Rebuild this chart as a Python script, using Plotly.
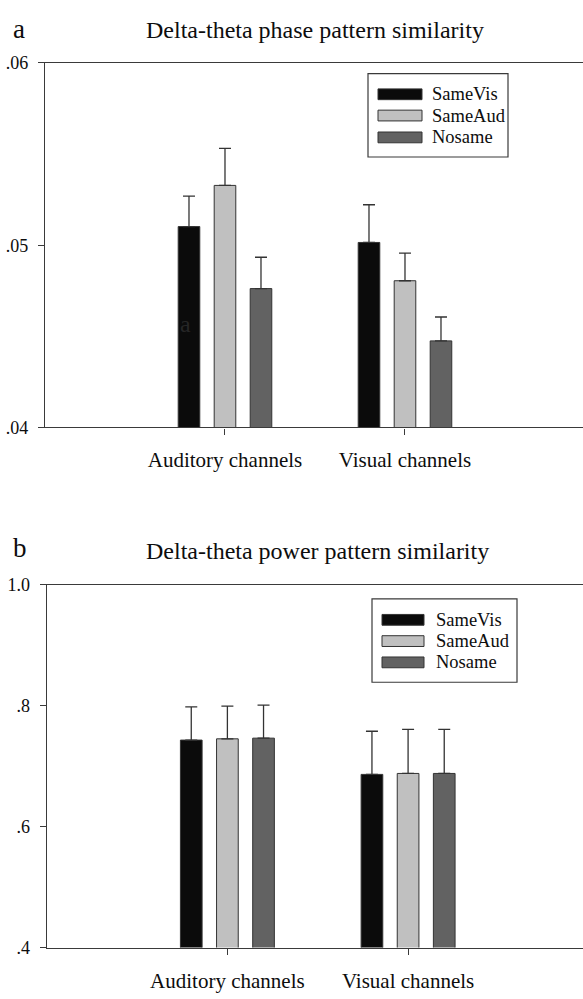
import plotly.graph_objects as go

# ---- data -------------------------------------------------------------
channels = ["Auditory channels", "Visual channels"]
conditions = ["SameVis", "SameAud", "Nosame"]
colors = ["#0b0b0b", "#c0c0c0", "#626262"]

# panel a: delta-theta phase pattern similarity (mean, upper SE)
phase_mean = {
    "SameVis": [0.05102, 0.05015],
    "SameAud": [0.05328, 0.04805],
    "Nosame": [0.04762, 0.04475],
}
phase_err = {
    "SameVis": [0.00167, 0.00207],
    "SameAud": [0.00203, 0.00152],
    "Nosame": [0.00172, 0.00131],
}

# panel b: delta-theta power pattern similarity (mean, upper SE)
power_mean = {
    "SameVis": [0.7433, 0.6865],
    "SameAud": [0.7454, 0.6881],
    "Nosame": [0.7465, 0.6881],
}
power_err = {
    "SameVis": [0.0551, 0.0714],
    "SameAud": [0.0541, 0.0730],
    "Nosame": [0.0547, 0.0730],
}

phase_ticks = [0.04, 0.05, 0.06]
phase_ticktext = [".04", ".05", ".06"]
power_ticks = [0.4, 0.6, 0.8, 1.0]
power_ticktext = [".4", ".6", ".8", "1.0"]

titles = ["Delta-theta phase pattern similarity", "Delta-theta power pattern similarity"]
panel_letters = ["a", "b"]

# ---- layout geometry --------------------------------------------------
W, H = 583, 999
L, R, T, B = 45, 0, 0, 0
FONT = "Liberation Serif, Times New Roman, serif"
INK = "#3a3a3a"
TEXT = "#0d0d0d"


def px_x(p):
    return (p - L) / (W - L - R)


def px_y(p):
    return 1 - (p - T) / (H - T - B)


fig = go.Figure()

panels = [
    ("x", "y", phase_mean, phase_err),
    ("x2", "y2", power_mean, power_err),
]
for xa, ya, means, errs in panels:
    for cond, col in zip(conditions, colors):
        fig.add_trace(go.Bar(
            x=channels,
            y=means[cond],
            name=cond,
            xaxis=xa,
            yaxis=ya,
            marker=dict(color=col, line=dict(color="#333333", width=1)),
            error_y=dict(type="data", symmetric=False, array=errs[cond],
                         arrayminus=[0] * len(errs[cond]),
                         color="#333333", thickness=1.3, width=6),
            showlegend=False,
        ))

axis_common = dict(
    showline=True, linecolor=INK, linewidth=1.3, showgrid=False, zeroline=False,
    ticks="outside", ticklen=6, tickcolor=INK, tickwidth=1.2,
)

fig.update_layout(
    width=W, height=H,
    margin=dict(l=L, r=R, t=T, b=B, pad=0),
    paper_bgcolor="white", plot_bgcolor="white",
    barmode="group", bargap=0.4, bargroupgap=0.4,
    font=dict(family=FONT, color=TEXT),
    showlegend=False,
    xaxis=dict(domain=[0, 1], range=[-1, 1.989], mirror=True,
               tickfont=dict(size=21, family=FONT, color=TEXT),
               ticklabelstandoff=7, anchor="y", **axis_common),
    yaxis=dict(domain=[px_y(426), px_y(54)], range=[0.04, 0.06],
               tickvals=phase_ticks, ticktext=phase_ticktext,
               tickfont=dict(size=18, family=FONT, color=TEXT),
               ticklabelstandoff=6, anchor="x", **axis_common),
    xaxis2=dict(domain=[px_x(46.7), 1], range=[-1, 1.968], mirror=True,
                tickfont=dict(size=21, family=FONT, color=TEXT),
                ticklabelstandoff=8, anchor="y2", **axis_common),
    yaxis2=dict(domain=[px_y(956.7), px_y(586.7)], range=[0.4, 1.0],
                tickvals=power_ticks, ticktext=power_ticktext,
                tickfont=dict(size=18, family=FONT, color=TEXT),
                ticklabelstandoff=6, anchor="x2", **axis_common),
)

annotations = []
shapes = []

# panel letters and titles
title_pos = [(19, 19, 315, 20), (20, 549, 317, 552)]
for letter, title, (lx, ly, tx, ty) in zip(panel_letters, titles, title_pos):
    annotations.append(dict(text=letter, x=px_x(lx), y=px_y(ly), xref="paper", yref="paper",
                            showarrow=False, xanchor="center", yanchor="middle",
                            font=dict(size=27, family=FONT, color=TEXT)))
    annotations.append(dict(text=title, x=px_x(tx), y=px_y(ty), xref="paper", yref="paper",
                            showarrow=False, xanchor="center", yanchor="middle",
                            font=dict(size=24, family=FONT, color=TEXT)))

# small letter printed over the first bar of panel a
annotations.append(dict(text="a", x=-0.22, y=0.04565, xref="x", yref="y", showarrow=False,
                        xanchor="center", yanchor="middle",
                        font=dict(size=24, family=FONT, color="#262626")))

# hand-built legends (box, wide swatches, labels)
legend_boxes = [
    dict(box=(368, 65, 508, 150), sw=(378, 422), txt=430, rows=[86, 107.7, 130]),
    dict(box=(372, 601, 517, 686), sw=(382, 424), txt=434, rows=[622.3, 644, 665.7]),
]
for lg in legend_boxes:
    x0, y0, x1, y1 = lg["box"]
    shapes.append(dict(type="rect", xref="paper", yref="paper",
                       x0=px_x(x0), x1=px_x(x1), y0=px_y(y1), y1=px_y(y0),
                       line=dict(color=INK, width=1.2), fillcolor="white", layer="above"))
    for cond, col, ry in zip(conditions, colors, lg["rows"]):
        shapes.append(dict(type="rect", xref="paper", yref="paper",
                           x0=px_x(lg["sw"][0]), x1=px_x(lg["sw"][1]),
                           y0=px_y(ry + 5.5), y1=px_y(ry - 5.5),
                           line=dict(color="#333333", width=1), fillcolor=col, layer="above"))
        annotations.append(dict(text=cond, x=px_x(lg["txt"]), y=px_y(ry), xref="paper", yref="paper",
                                showarrow=False, xanchor="left", yanchor="middle",
                                font=dict(size=18.5, family=FONT, color=TEXT)))

fig.update_layout(annotations=annotations, shapes=shapes)

fig.write_html("out.html")
